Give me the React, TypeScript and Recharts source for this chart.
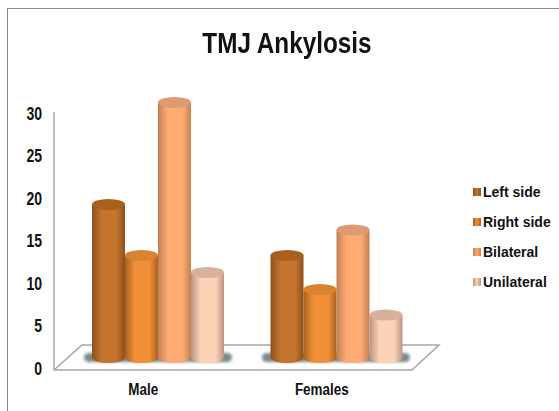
import React from 'react';
import { BarChart, Bar, XAxis, YAxis } from 'recharts';

const categories = ['Male', 'Females'];
const leftSide = [18, 12];
const rightSide = [12, 8];
const bilateral = [30, 15];
const unilateral = [10, 5];
const yTicks = [0, 5, 10, 15, 20, 25, 30];

const seriesInfo = [
  { key: 'left', name: 'Left side', dark: '#8f4f1c', mid: '#c4742e', top: '#a9601f' },
  { key: 'right', name: 'Right side', dark: '#a9601f', mid: '#f08f38', top: '#d98230' },
  { key: 'bilateral', name: 'Bilateral', dark: '#c27f52', mid: '#ffab74', top: '#e09a72' },
  { key: 'unilateral', name: 'Unilateral', dark: '#bb9480', mid: '#fdd3b8', top: '#d8b09c' },
];

const chartData = categories.map((name, i) => ({
  name,
  left: leftSide[i],
  right: rightSide[i],
  bilateral: bilateral[i],
  unilateral: unilateral[i],
}));

const font = '"Liberation Sans", Arial, sans-serif';

// cylinder: body + elliptical top and bottom, sized from the bar rect
const Cylinder = (props: any) => {
  const { x, y, width, height, seriesKey } = props;
  const info = seriesInfo.find((s) => s.key === seriesKey)!;
  const rx = width / 2;
  const ry = 5.5;
  const bottom = y + height;
  return (
    <g>
      <path
        d={`M${x},${y} L${x},${bottom} A${rx},${ry} 0 0 0 ${x + width},${bottom} L${x + width},${y} Z`}
        fill={`url(#grad-${seriesKey})`}
      />
      <ellipse cx={x + rx} cy={y} rx={rx} ry={ry} fill={info.top} />
    </g>
  );
};

const YTick = ({ y, payload }: any) => (
  <text
    transform={`translate(42, ${y + 17}) scale(0.78, 1)`}
    textAnchor="end"
    fontFamily={font}
    fontWeight="bold"
    fontSize={18}
    fill="#111"
  >
    {payload.value}
  </text>
);

const XTick = ({ x, y, payload }: any) => (
  <text
    transform={`translate(${x - 14}, ${y + 29}) scale(0.79, 1)`}
    textAnchor="middle"
    fontFamily={font}
    fontWeight="bold"
    fontSize={17}
    fill="#111"
  >
    {payload.value}
  </text>
);

const LegendBox = () => (
  <div style={{ position: 'absolute', left: 473, top: 177, fontFamily: font }}>
    {seriesInfo.map((s) => (
      <div key={s.key} style={{ display: 'flex', alignItems: 'center', height: 30 }}>
        <span style={{ width: 8, height: 8, marginRight: 2, background: `linear-gradient(90deg, ${s.dark}, ${s.mid}, ${s.dark})` }} />
        <span style={{ fontSize: 14, fontWeight: 'bold', color: '#111', whiteSpace: 'nowrap' }}>{s.name}</span>
      </div>
    ))}
  </div>
);

export default function App() {
  return (
    <div style={{ position: 'absolute', left: 0, top: 0, width: 559, height: 411, background: '#fff', overflow: 'hidden' }}>
      <div style={{ position: 'absolute', left: 7, top: 8, width: 560, height: 420, borderLeft: '1px solid #8a8a8a', borderTop: '1px solid #8a8a8a' }} />
      <div
        style={{
          position: 'absolute',
          left: 0,
          width: 574,
          top: 26,
          textAlign: 'center',
          fontFamily: font,
          fontWeight: 'bold',
          fontSize: 30,
          color: '#111',
          transform: 'scaleX(0.81)',
        }}
      >
        TMJ Ankylosis
      </div>
      <BarChart
        width={559}
        height={411}
        data={chartData}
        margin={{ top: 102.5, right: 134, bottom: 23.5, left: 54 }}
        barCategoryGap={24}
        barGap={0}
        style={{ position: 'absolute', left: 0, top: 0 }}
      >
        <defs>
          {seriesInfo.map((s) => (
            <linearGradient key={s.key} id={`grad-${s.key}`} x1="0" x2="1" y1="0" y2="0">
              <stop offset="0%" stopColor={s.dark} />
              <stop offset="30%" stopColor={s.mid} />
              <stop offset="75%" stopColor={s.mid} />
              <stop offset="100%" stopColor={s.dark} />
            </linearGradient>
          ))}
          <filter id="floor-shadow" x="-20%" y="-100%" width="140%" height="300%">
            <feGaussianBlur stdDeviation="1.5" />
          </filter>
        </defs>
        {/* 3d floor and front axis line */}
        <polyline points="54,112 54,370 412,370 439,345 82,345 54,370" fill="#fff" stroke="#a6a6a6" strokeWidth={1.5} />
        <rect x={84} y={353} width={148} height={9} rx={4.5} fill="#7c8a8c" filter="url(#floor-shadow)" />
        <rect x={262} y={353} width={148} height={9} rx={4.5} fill="#7c8a8c" filter="url(#floor-shadow)" />
        <XAxis dataKey="name" axisLine={false} tickLine={false} tick={<XTick />} interval={0} />
        <YAxis
          domain={[0, 30]}
          ticks={yTicks}
          width={14}
          axisLine={false}
          tickLine={false}
          tick={<YTick />}
          interval={0}
        />
        {seriesInfo.map((s) => (
          <Bar
            key={s.key}
            dataKey={s.key}
            name={s.name}
            isAnimationActive={false}
            shape={(p: any) => <Cylinder {...p} seriesKey={s.key} />}
          />
        ))}
      </BarChart>
      <LegendBox />
    </div>
  );
}
